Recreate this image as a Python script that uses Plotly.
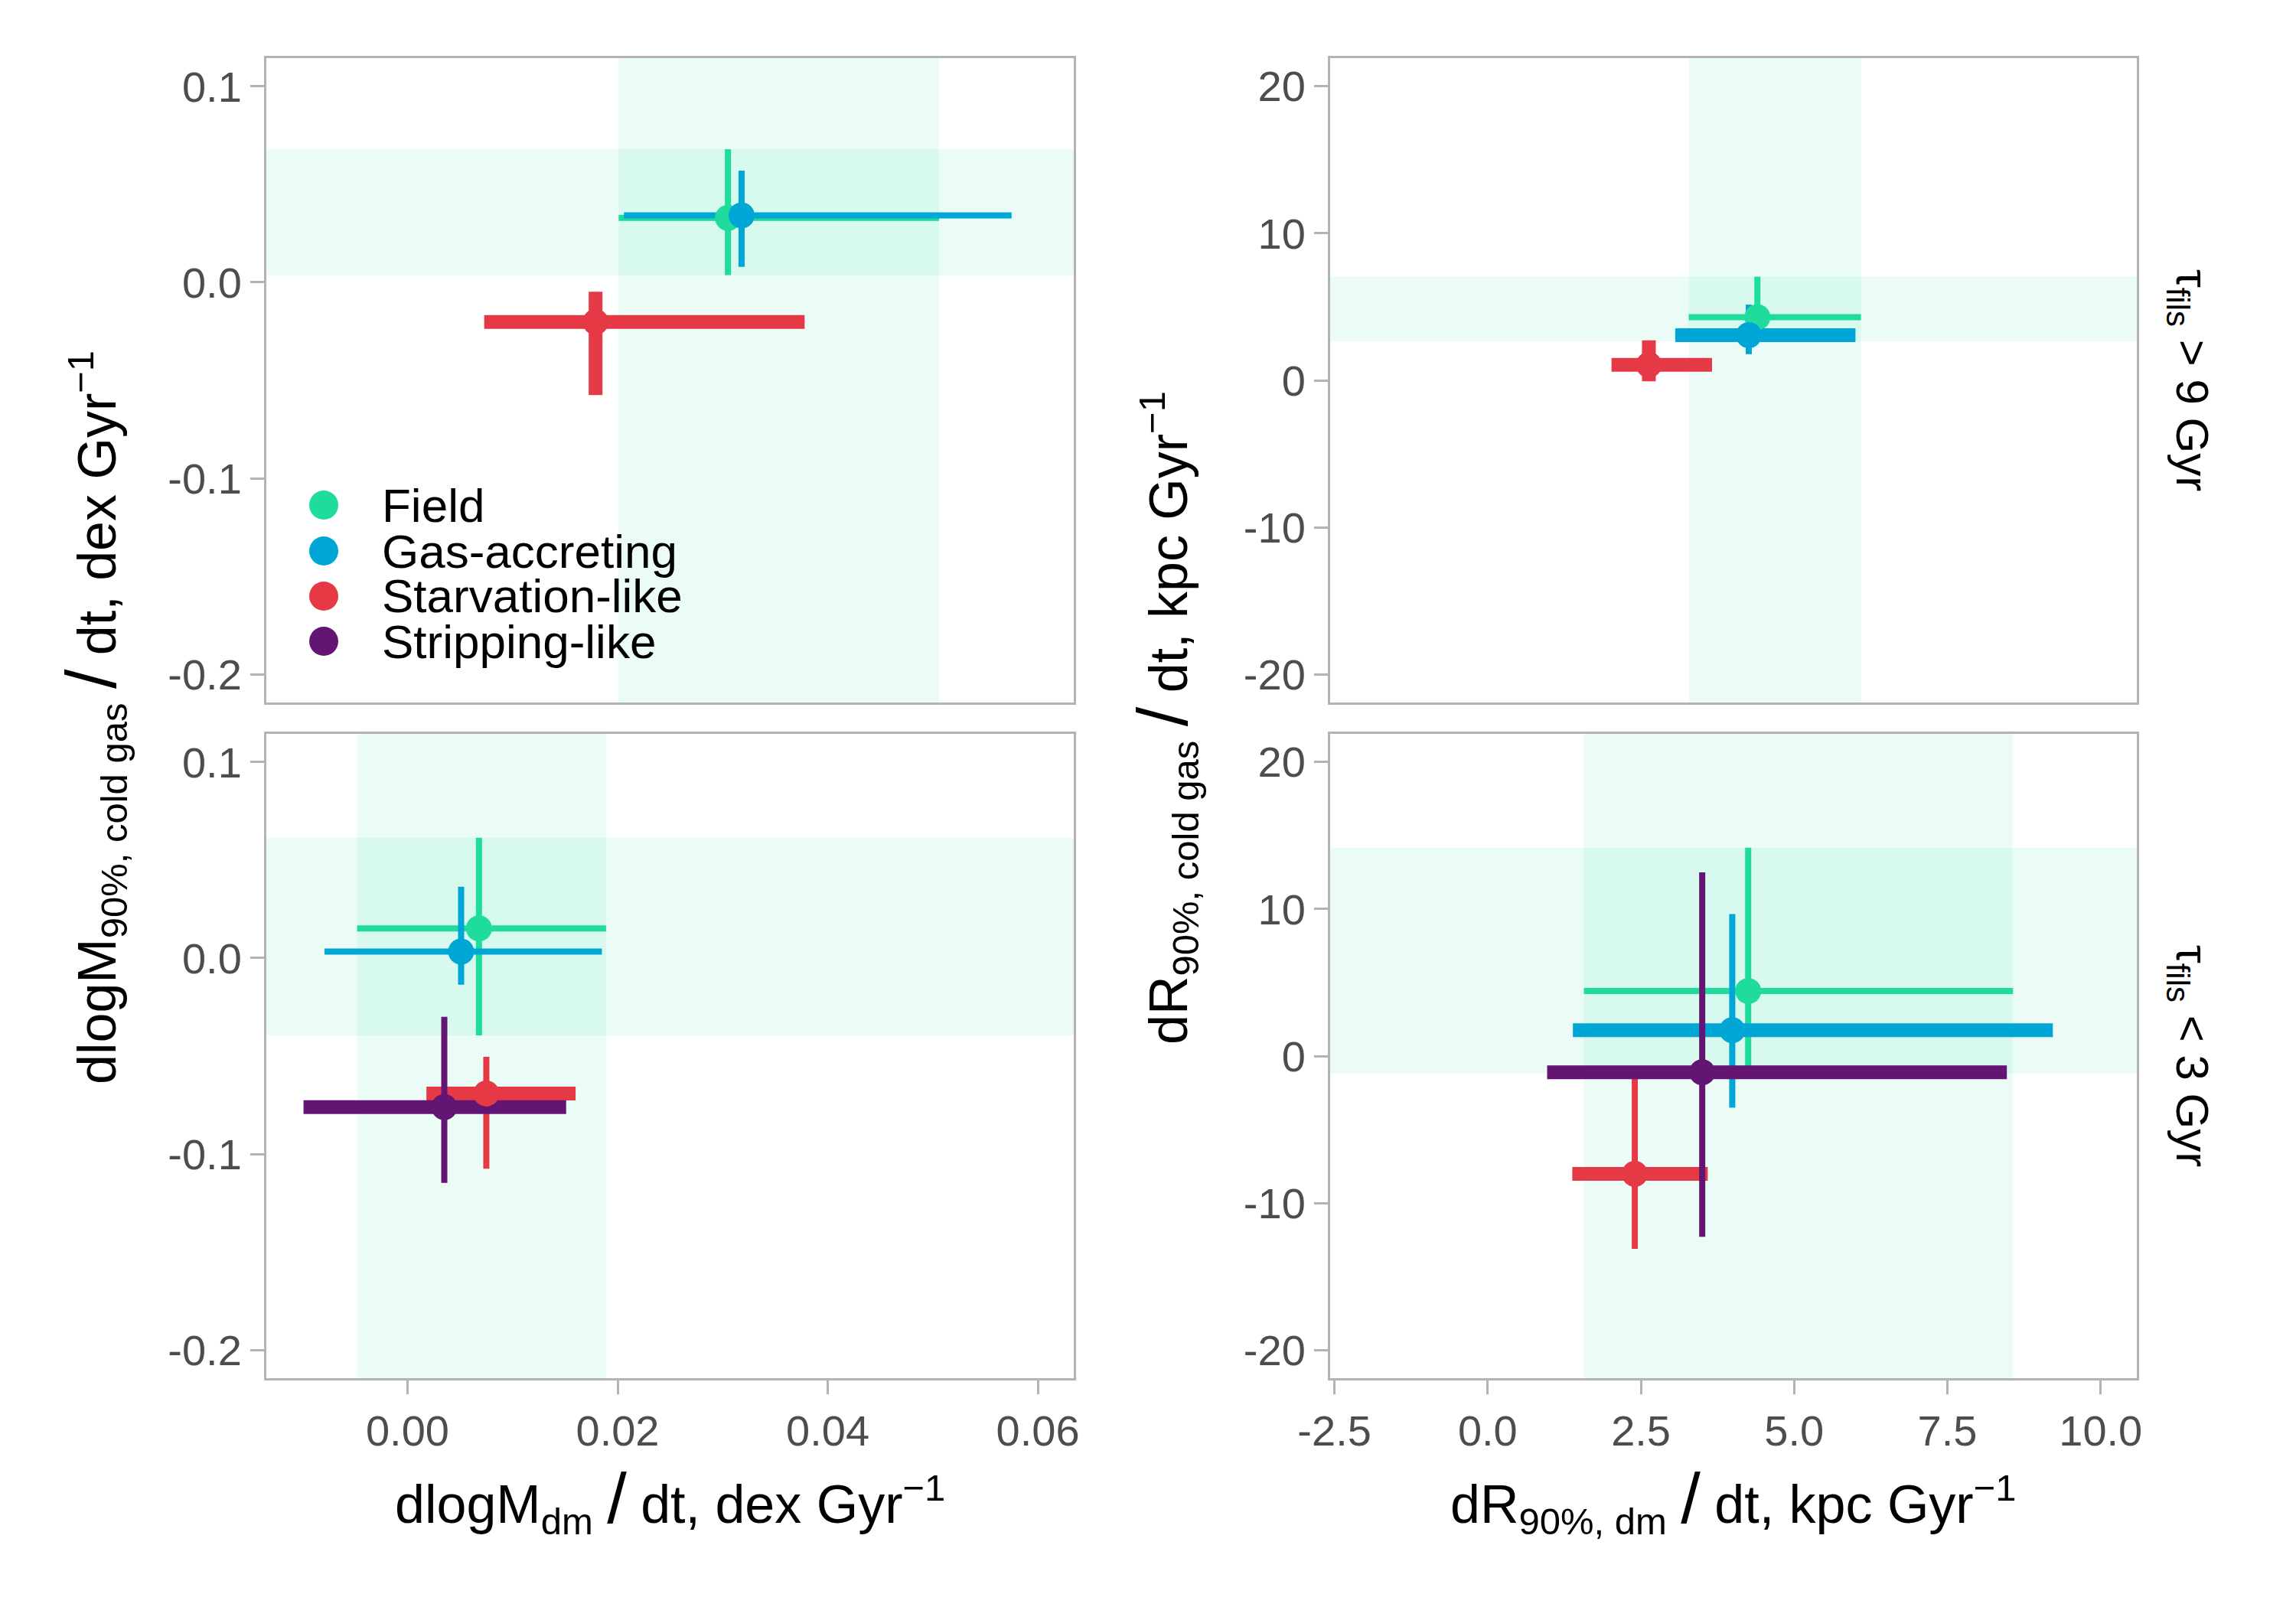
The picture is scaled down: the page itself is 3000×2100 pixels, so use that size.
import plotly.graph_objects as go

# ---------------- data ----------------
group_names = ["Field", "Gas-accreting", "Starvation-like", "Stripping-like"]
group_colors = ["#1fdc9c", "#00a6d6", "#e63946", "#621573"]

# Top-left: dlogM, tau_fils > 9 Gyr
m9_groups = ["Field", "Gas-accreting", "Starvation-like"]
m9_x = [0.0305, 0.0318, 0.0179]
m9_xlo = [0.0201, 0.0206, 0.0073]
m9_xhi = [0.0506, 0.0575, 0.0378]
m9_y = [0.0329, 0.0342, -0.0202]
m9_ylo = [0.0037, 0.0079, -0.0575]
m9_yhi = [0.0680, 0.0570, -0.0048]
m9_xsig = [False, False, True]
m9_ysig = [False, False, True]

# Top-right: dR, tau_fils > 9 Gyr
r9_groups = ["Field", "Gas-accreting", "Starvation-like"]
r9_x = [4.40, 4.26, 2.63]
r9_xlo = [3.28, 3.06, 2.02]
r9_xhi = [6.09, 6.00, 3.66]
r9_y = [4.30, 3.07, 1.05]
r9_ylo = [2.66, 1.78, -0.06]
r9_yhi = [7.05, 5.15, 2.72]
r9_xsig = [False, True, True]
r9_ysig = [False, False, True]

# Bottom-left: dlogM, tau_fils < 3 Gyr
m3_groups = ["Field", "Gas-accreting", "Starvation-like", "Stripping-like"]
m3_x = [0.0068, 0.0051, 0.0075, 0.0035]
m3_xlo = [-0.0048, -0.0079, 0.0018, -0.0099]
m3_xhi = [0.0189, 0.0185, 0.0160, 0.0151]
m3_y = [0.0151, 0.0033, -0.0691, -0.0761]
m3_ylo = [-0.0395, -0.0136, -0.1075, -0.1147]
m3_yhi = [0.0614, 0.0364, -0.0504, -0.0300]
m3_xsig = [False, False, True, True]
m3_ysig = [False, False, False, False]

# Bottom-right: dR, tau_fils < 3 Gyr
r3_groups = ["Field", "Gas-accreting", "Starvation-like", "Stripping-like"]
r3_x = [4.25, 3.99, 2.40, 3.50]
r3_xlo = [1.57, 1.39, 1.38, 0.97]
r3_xhi = [8.57, 9.22, 3.59, 8.47]
r3_y = [4.42, 1.76, -8.02, -1.11]
r3_ylo = [-1.20, -3.51, -13.12, -12.30]
r3_yhi = [14.17, 9.66, -1.41, 12.50]
r3_xsig = [False, True, True, True]
r3_ysig = [False, False, False, False]

# ticks
mx_tickvals = [0.0, 0.02, 0.04, 0.06]
mx_ticktext = ["0.00", "0.02", "0.04", "0.06"]
my_tickvals = [0.1, 0.0, -0.1, -0.2]
my_ticktext = ["0.1", "0.0", "-0.1", "-0.2"]
rx_tickvals = [-2.5, 0.0, 2.5, 5.0, 7.5, 10.0]
rx_ticktext = ["-2.5", "0.0", "2.5", "5.0", "7.5", "10.0"]
ry_tickvals = [20, 10, 0, -10, -20]
ry_ticktext = ["20", "10", "0", "-10", "-20"]

strip_labels = ["τ<sub>fils</sub> > 9 Gyr", "τ<sub>fils</sub> < 3 Gyr"]

# ---------------- style ----------------
W, H = 3000, 2100
FONT = "Liberation Sans, Arial, Helvetica, sans-serif"
THIN, THICK = 8, 18
MSIZE = 34
BAND = "rgba(29,220,156,0.09)"
BORDER = "#b3b3b3"

color_of = dict(zip(group_names, group_colors))

fig = go.Figure()
shapes = []


def add_panel(groups, x, xlo, xhi, y, ylo, yhi, xsig, ysig, xa, ya):
    # field bands (uncertainty range of the Field sample)
    fi = groups.index("Field")
    shapes.append(dict(type="rect", xref=xa, yref=ya + " domain", x0=xlo[fi], x1=xhi[fi],
                       y0=0, y1=1, fillcolor=BAND, line=dict(width=0), layer="below"))
    shapes.append(dict(type="rect", xref=xa + " domain", yref=ya, x0=0, x1=1,
                       y0=ylo[fi], y1=yhi[fi], fillcolor=BAND, line=dict(width=0), layer="below"))
    # error bars
    for i, g in enumerate(groups):
        c = color_of[g]
        fig.add_trace(go.Scatter(
            x=[x[i]], y=[y[i]], mode="markers", xaxis=xa, yaxis=ya,
            marker=dict(size=2, color=c, opacity=0), showlegend=False, hoverinfo="skip",
            error_x=dict(type="data", symmetric=False, array=[xhi[i] - x[i]],
                         arrayminus=[x[i] - xlo[i]], color=c, width=0,
                         thickness=THICK if xsig[i] else THIN),
            error_y=dict(type="data", symmetric=False, array=[yhi[i] - y[i]],
                         arrayminus=[y[i] - ylo[i]], color=c, width=0,
                         thickness=THICK if ysig[i] else THIN),
        ))
    # points
    for i, g in enumerate(groups):
        fig.add_trace(go.Scatter(
            x=[x[i]], y=[y[i]], mode="markers", xaxis=xa, yaxis=ya, name=g,
            marker=dict(size=MSIZE, color=color_of[g], line=dict(width=0)),
            showlegend=False,
        ))


add_panel(m9_groups, m9_x, m9_xlo, m9_xhi, m9_y, m9_ylo, m9_yhi, m9_xsig, m9_ysig, "x", "y")
add_panel(r9_groups, r9_x, r9_xlo, r9_xhi, r9_y, r9_ylo, r9_yhi, r9_xsig, r9_ysig, "x2", "y2")
add_panel(m3_groups, m3_x, m3_xlo, m3_xhi, m3_y, m3_ylo, m3_yhi, m3_xsig, m3_ysig, "x3", "y3")
add_panel(r3_groups, r3_x, r3_xlo, r3_xhi, r3_y, r3_ylo, r3_yhi, r3_xsig, r3_ysig, "x4", "y4")

LX = [348 / W, 1403 / W]
RX = [1738 / W, 2792 / W]
TY = [1 - 918 / H, 1 - 76 / H]
BY = [1 - 1801 / H, 1 - 959 / H]

MX_RANGE = [-0.01344, 0.06342]
MY_RANGE = [-0.21443, 0.11443]
RX_RANGE = [-2.57, 10.59]
RY_RANGE = [-21.92, 21.92]

tickfont = dict(family=FONT, size=56, color="#4d4d4d")


def ax(domain, rng, anchor, tv, tt, show):
    return dict(domain=domain, range=rng, anchor=anchor, showgrid=False, zeroline=False,
                showline=True, mirror=True, linecolor=BORDER, linewidth=3, automargin=False,
                ticks="outside" if show else "", ticklen=18, tickwidth=3, tickcolor=BORDER,
                tickvals=tv, ticktext=tt, showticklabels=show, tickfont=tickfont)


# legend (drawn inside the top-left panel)
leg_x_marker = 423 / W
leg_x_text = 497 / W
leg_y = [660, 720, 779, 838]
annotations = []
for i, g in enumerate(group_names):
    yy = 1 - leg_y[i] / H
    shapes.append(dict(type="circle", xref="paper", yref="paper", xsizemode="pixel",
                       ysizemode="pixel", xanchor=leg_x_marker, yanchor=yy,
                       x0=-19, x1=19, y0=-19, y1=19, fillcolor=color_of[g],
                       line=dict(width=0), layer="above"))
    annotations.append(dict(text=g, xref="paper", yref="paper", x=leg_x_text, y=yy,
                            xanchor="left", yanchor="middle", showarrow=False,
                            font=dict(family=FONT, size=62, color="black")))

title_font = dict(family=FONT, size=70, color="black")
SL = '<span style="font-size:92px">\u2009/\u2009</span>'
annotations += [
    dict(text="dlogM<sub>dm</sub>" + SL + "dt, dex Gyr<sup>−1</sup>", xref="paper", yref="paper",
         x=(LX[0] + LX[1]) / 2, y=1 - 1961 / H, xanchor="center", yanchor="middle",
         showarrow=False, font=title_font),
    dict(text="dR<sub>90%, dm</sub>" + SL + "dt, kpc Gyr<sup>−1</sup>", xref="paper", yref="paper",
         x=(RX[0] + RX[1]) / 2, y=1 - 1961 / H, xanchor="center", yanchor="middle",
         showarrow=False, font=title_font),
    dict(text="dlogM<sub>90%, cold gas</sub>" + SL + "dt, dex Gyr<sup>−1</sup>", xref="paper",
         yref="paper", x=122 / W, y=1 - 938 / H, xanchor="center", yanchor="middle",
         textangle=-90, showarrow=False, font=title_font),
    dict(text="dR<sub>90%, cold gas</sub>" + SL + "dt, kpc Gyr<sup>−1</sup>", xref="paper",
         yref="paper", x=1522 / W, y=1 - 938 / H, xanchor="center", yanchor="middle",
         textangle=-90, showarrow=False, font=title_font),
    dict(text=strip_labels[0], xref="paper", yref="paper", x=2860 / W, y=(TY[0] + TY[1]) / 2,
         xanchor="center", yanchor="middle", textangle=90, showarrow=False,
         font=dict(family=FONT, size=60, color="black")),
    dict(text=strip_labels[1], xref="paper", yref="paper", x=2860 / W, y=(BY[0] + BY[1]) / 2,
         xanchor="center", yanchor="middle", textangle=90, showarrow=False,
         font=dict(family=FONT, size=60, color="black")),
]

fig.update_layout(
    width=W, height=H, margin=dict(l=0, r=0, t=0, b=0, pad=0, autoexpand=False),
    paper_bgcolor="white", plot_bgcolor="white", showlegend=False,
    font=dict(family=FONT),
    xaxis=ax(LX, MX_RANGE, "y", mx_tickvals, mx_ticktext, False),
    yaxis=ax(TY, MY_RANGE, "x", my_tickvals, my_ticktext, True),
    xaxis2=ax(RX, RX_RANGE, "y2", rx_tickvals, rx_ticktext, False),
    yaxis2=ax(TY, RY_RANGE, "x2", ry_tickvals, ry_ticktext, True),
    xaxis3=ax(LX, MX_RANGE, "y3", mx_tickvals, mx_ticktext, True),
    yaxis3=ax(BY, MY_RANGE, "x3", my_tickvals, my_ticktext, True),
    xaxis4=ax(RX, RX_RANGE, "y4", rx_tickvals, rx_ticktext, True),
    yaxis4=ax(BY, RY_RANGE, "x4", ry_tickvals, ry_ticktext, True),
    shapes=shapes, annotations=annotations,
)

fig.write_html("out.html")
